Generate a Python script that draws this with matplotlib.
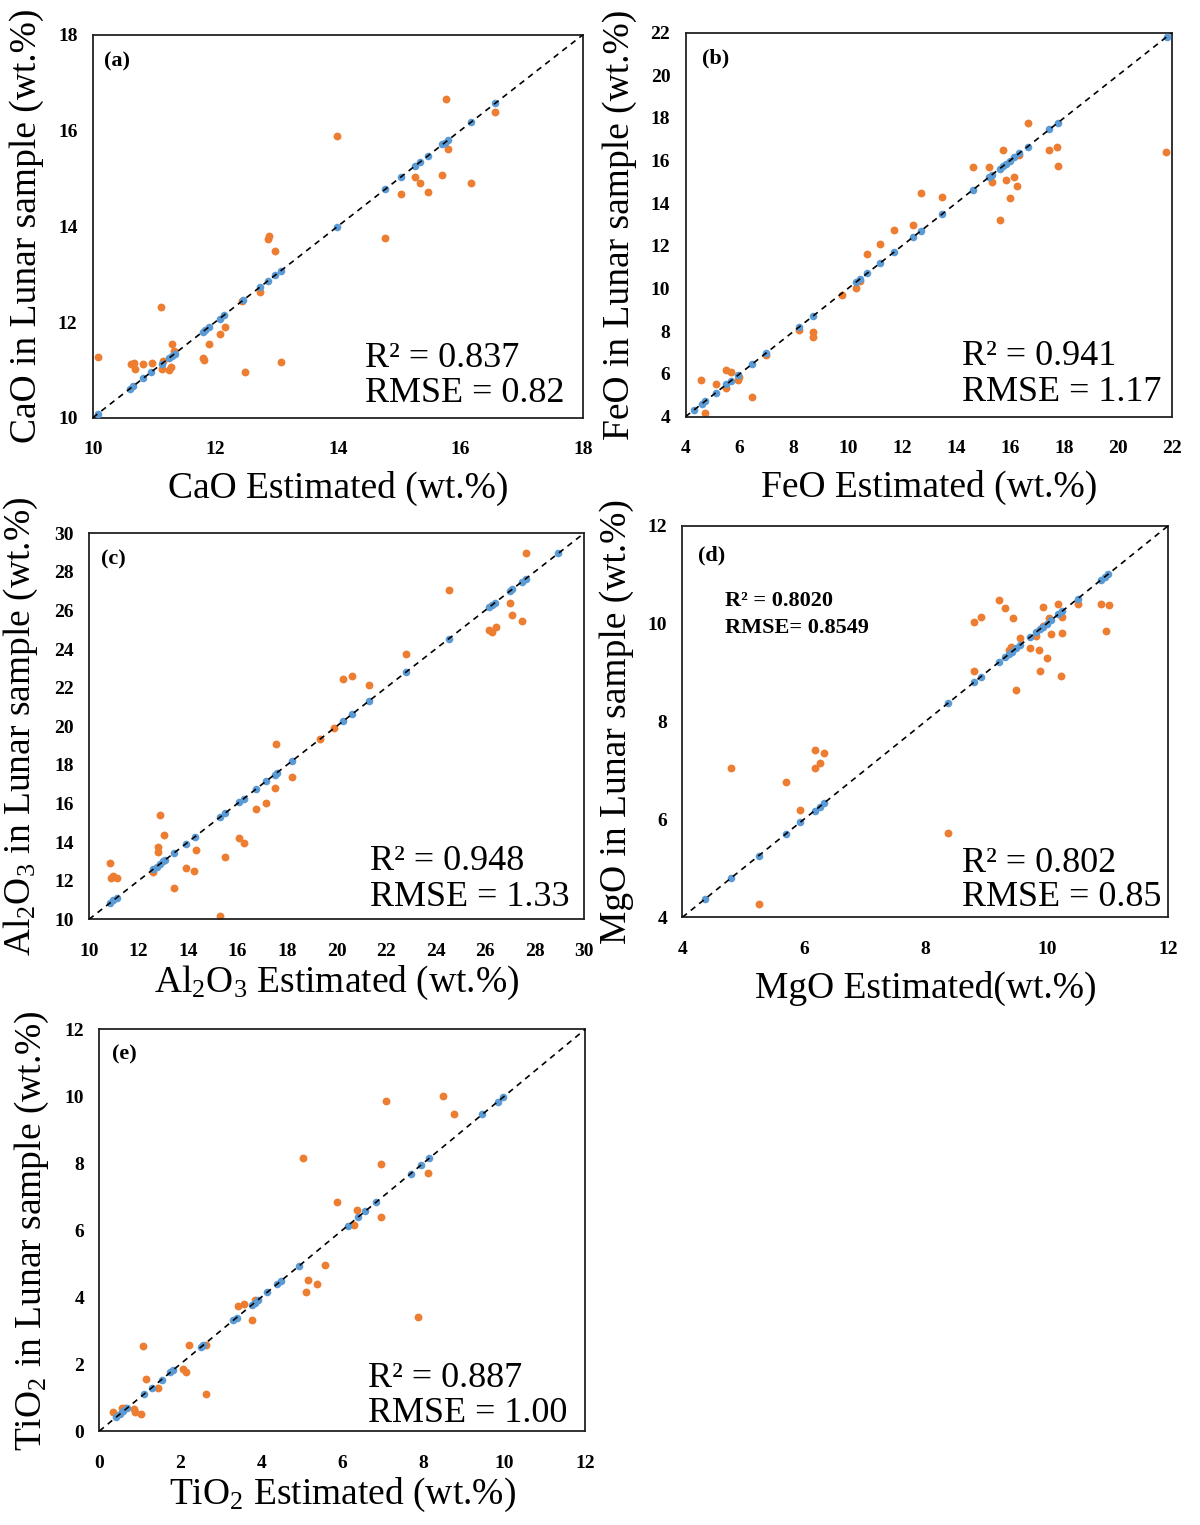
import matplotlib
matplotlib.use('Agg')
import matplotlib.pyplot as plt

plt.rcParams['font.family'] = ['Liberation Serif', 'DejaVu Serif']
plt.rcParams['mathtext.fontset'] = 'custom'
plt.rcParams['mathtext.rm'] = 'Liberation Serif'
plt.rcParams['mathtext.it'] = 'Liberation Serif:italic'
plt.rcParams['mathtext.bf'] = 'Liberation Serif:bold'

ORANGE = '#ED7D31'
BLUE = '#5B9BD5'

# (a) CaO
cao_est = [10.09, 11.11, 10.62, 10.67, 10.69, 10.82, 10.96, 11.14, 11.13, 11.24, 11.28, 11.30,
           11.33, 11.80, 11.82, 11.90, 12.08, 12.16, 12.48, 12.43, 12.73, 12.86, 12.87, 12.98,
           13.07, 13.99, 14.77, 15.04, 15.26, 15.34, 15.47, 15.71, 15.76, 15.80, 16.18, 16.57]
cao_lab = [11.26, 12.31, 11.12, 11.15, 11.01, 11.12, 11.15, 11.19, 11.02, 11.00, 11.05, 11.53,
           11.40, 11.24, 11.21, 11.54, 11.74, 11.90, 10.95, 12.43, 12.62, 13.74, 13.79, 13.48,
           11.16, 15.88, 13.75, 14.67, 15.03, 14.90, 14.71, 15.08, 16.67, 15.61, 14.91, 16.39]
cao_fit = [10.08, 10.61, 10.66, 10.82, 10.95, 11.13, 11.24, 11.29, 11.34, 11.80, 11.83, 11.90,
           12.07, 12.14, 12.46, 12.73, 12.86, 12.98, 13.07, 13.99, 14.77, 15.04, 15.26, 15.34,
           15.47, 15.71, 15.75, 15.80, 16.18, 16.57]

# (b) FeO
feo_est = [4.58, 4.71, 5.12, 5.51, 5.69, 5.51, 5.93, 5.97, 6.46, 6.99, 8.21, 8.73, 8.71, 9.77,
           10.29, 10.44, 10.72, 11.20, 11.72, 12.40, 12.72, 13.49, 14.64, 15.23, 15.33, 15.62,
           15.74, 15.86, 15.99, 16.16, 16.25, 16.35, 16.66, 17.46, 17.73, 17.77, 21.79]
feo_lab = [5.72, 4.19, 5.52, 6.19, 6.08, 5.36, 5.72, 5.88, 4.94, 6.89, 8.06, 7.95, 7.73, 9.70,
           10.05, 10.38, 11.64, 12.08, 12.75, 13.00, 14.48, 14.30, 15.70, 15.69, 15.02, 13.23,
           16.52, 15.09, 14.25, 15.22, 14.83, 16.25, 17.78, 16.52, 16.66, 15.73, 16.39]
feo_fit = [4.31, 4.59, 4.71, 5.12, 5.51, 5.69, 5.93, 6.46, 6.99, 8.21, 8.73, 10.29, 10.44, 10.72,
           11.20, 11.72, 12.40, 12.72, 13.49, 14.64, 15.23, 15.33, 15.62, 15.74, 15.86, 15.99,
           16.16, 16.35, 16.66, 17.46, 17.77, 21.80]

# (c) Al2O3
al_est = [10.85, 10.89, 10.98, 11.14, 12.60, 12.80, 12.79, 12.88, 13.04, 13.43, 13.91, 14.24,
          14.31, 15.29, 15.49, 16.07, 16.25, 16.73, 17.15, 17.50, 17.57, 18.20, 19.35, 19.89,
          20.28, 20.64, 21.30, 22.79, 24.53, 26.18, 26.30, 26.45, 27.01, 27.08, 27.50, 27.66]
al_lab = [12.94, 12.12, 12.26, 12.16, 12.45, 13.77, 13.51, 15.39, 14.35, 11.64, 12.64, 12.52,
          13.59, 10.17, 13.25, 14.20, 13.96, 15.70, 16.03, 16.80, 19.08, 17.36, 19.34, 19.91,
          22.47, 22.63, 22.14, 23.75, 27.08, 24.97, 24.90, 25.13, 26.41, 25.79, 25.44, 28.96]
al_fit = [10.85, 10.98, 11.12, 12.60, 12.73, 12.87, 13.00, 13.07, 13.43, 13.91, 14.28, 15.29,
          15.49, 16.07, 16.25, 16.73, 17.15, 17.50, 17.58, 18.20, 20.28, 20.64, 21.30, 22.79,
          24.53, 26.18, 26.27, 26.41, 27.01, 27.10, 27.50, 27.64, 28.96]

# (d) MgO
mgo_est = [4.80, 5.26, 5.71, 5.94, 6.18, 6.18, 6.26, 6.34, 8.37, 8.80, 8.91, 8.80, 9.22, 9.31,
           9.44, 9.50, 9.37, 9.41, 9.56, 9.72, 9.83, 9.87, 9.88, 9.93, 9.94, 10.00, 10.03, 10.07,
           10.19, 10.25, 10.25, 10.24, 10.51, 10.89, 10.97, 11.03]
mgo_lab = [7.04, 4.27, 6.77, 6.20, 7.42, 7.04, 7.16, 7.36, 5.73, 10.04, 10.14, 9.03, 10.48, 10.31,
           10.11, 8.64, 9.47, 9.52, 9.70, 9.50, 9.74, 9.47, 9.04, 10.33, 9.95, 9.30, 10.11, 9.79,
           10.39, 10.14, 9.80, 8.92, 10.41, 10.39, 9.85, 10.37]
mgo_fit = [4.38, 4.80, 5.26, 5.71, 5.94, 6.18, 6.26, 6.34, 8.37, 8.80, 8.91, 9.22, 9.31, 9.37,
           9.42, 9.50, 9.56, 9.72, 9.83, 9.88, 9.93, 10.00, 10.07, 10.19, 10.25, 10.51, 10.89,
           10.96, 11.01]

# (e) TiO2
ti_est = [0.33, 0.55, 0.63, 0.86, 0.88, 1.02, 1.07, 1.16, 1.45, 2.06, 2.13, 2.22, 2.64, 2.64,
          3.43, 3.57, 3.76, 3.84, 5.02, 5.11, 5.15, 5.38, 5.58, 5.86, 6.28, 6.36, 6.95, 6.95,
          7.08, 7.88, 8.11, 8.48, 8.76]
ti_lab = [0.58, 0.68, 0.68, 0.65, 0.58, 0.51, 2.53, 1.55, 1.29, 1.84, 1.77, 2.58, 2.58, 1.12,
          3.75, 3.81, 3.32, 3.93, 8.16, 4.16, 4.52, 4.39, 4.96, 6.84, 6.16, 6.60, 7.97, 6.39,
          9.87, 3.42, 7.72, 10.01, 9.48]
ti_fit = [0.41, 0.51, 0.59, 0.68, 1.10, 1.29, 1.54, 1.75, 1.83, 2.51, 2.57, 3.31, 3.39, 3.76,
          3.84, 3.93, 4.15, 4.38, 4.49, 4.94, 6.13, 6.38, 6.57, 6.83, 7.69, 7.95, 8.15, 9.46,
          9.84, 9.98]

panels = [
    # rect, est, lab, fit, lim, ticks, xlabel, ylabel, tag, r2, rmse, text pos, tag pos, xlabelpad
    ([0.0773, 0.7261, 0.4083, 0.2510], cao_est, cao_lab, cao_fit, (10, 18), range(10, 19, 2),
     'CaO Estimated (wt.%)', 'CaO in Lunar sample (wt.%)', '(a)', '0.837', '0.82',
     (0.556, 0.133, 0.042), (0.023, 0.917), 9),
    ([0.5713, 0.7268, 0.4054, 0.2518], feo_est, feo_lab, feo_fit, (4, 22), range(4, 23, 2),
     'FeO Estimated (wt.%)', 'FeO in Lunar sample (wt.%)', '(b)', '0.941', '1.17',
     (0.568, 0.135, 0.042), (0.033, 0.920), 9),
    ([0.0742, 0.3972, 0.4125, 0.2531], al_est, al_lab, al_fit, (10, 30), range(10, 31, 2),
     'Al$_2$O$_3$ Estimated (wt.%)', 'Al$_2$O$_3$ in Lunar sample (wt.%)', '(c)', '0.948', '1.33',
     (0.568, 0.128, 0.035), (0.024, 0.918), 3),
    ([0.5686, 0.3985, 0.4050, 0.2568], mgo_est, mgo_lab, mgo_fit, (4, 12), range(4, 13, 2),
     'MgO Estimated(wt.%)', 'MgO in Lunar sample (wt.%)', '(d)', '0.802', '0.85',
     (0.576, 0.116, 0.029), (0.032, 0.912), 9),
    ([0.0828, 0.0616, 0.4048, 0.2634], ti_est, ti_lab, ti_fit, (0, 12), range(0, 13, 2),
     'TiO$_2$ Estimated (wt.%)', 'TiO$_2$ in Lunar sample (wt.%)', '(e)', '0.887', '1.00',
     (0.554, 0.110, 0.023), (0.026, 0.924), 3),
]

fig = plt.figure(figsize=(12, 15.25), dpi=100)

for rect, est, lab, fit, lim, ticks, xl, yl, tag, r2, rmse, tpos, tagpos, xpad in panels:
    ax = fig.add_axes(rect)
    ax.scatter(est, lab, s=32, color=ORANGE, linewidths=0, zorder=2)
    ax.scatter(fit, fit, s=30, color=BLUE, linewidths=0, zorder=3)
    ax.plot(lim, lim, color='black', linestyle=(0, (3.5, 3)), linewidth=1.2, zorder=4)
    ax.set_xlim(lim)
    ax.set_ylim(lim)
    ax.set_xticks(list(ticks), [str(t) for t in ticks], fontsize=14, fontweight='bold')
    ax.set_yticks(list(ticks), [str(t) for t in ticks], fontsize=14, fontweight='bold')
    ax.tick_params(length=0)
    ax.tick_params(axis='x', pad=17)
    ax.tick_params(axis='y', pad=11)
    for sp in ax.spines.values():
        sp.set_linewidth(1.3)
        sp.set_color('#222222')
    ax.set_xlabel(xl, fontsize=27, labelpad=xpad)
    ax.set_ylabel(yl, fontsize=27, labelpad=10)
    ax.text(tagpos[0], tagpos[1], tag, transform=ax.transAxes, fontsize=16,
            fontweight='bold', va='baseline')
    ax.text(tpos[0], tpos[1], 'R² = ' + r2, transform=ax.transAxes, fontsize=26,
            va='baseline')
    ax.text(tpos[0], tpos[2], 'RMSE = ' + rmse, transform=ax.transAxes, fontsize=26,
            va='baseline')
    if tag == '(d)':
        ax.text(0.088, 0.795, 'R² = 0.8020', transform=ax.transAxes, fontsize=16,
                fontweight='bold', va='baseline')
        ax.text(0.088, 0.725, 'RMSE= 0.8549', transform=ax.transAxes, fontsize=16,
                fontweight='bold', va='baseline')

fig.savefig('out.png', dpi=100)
